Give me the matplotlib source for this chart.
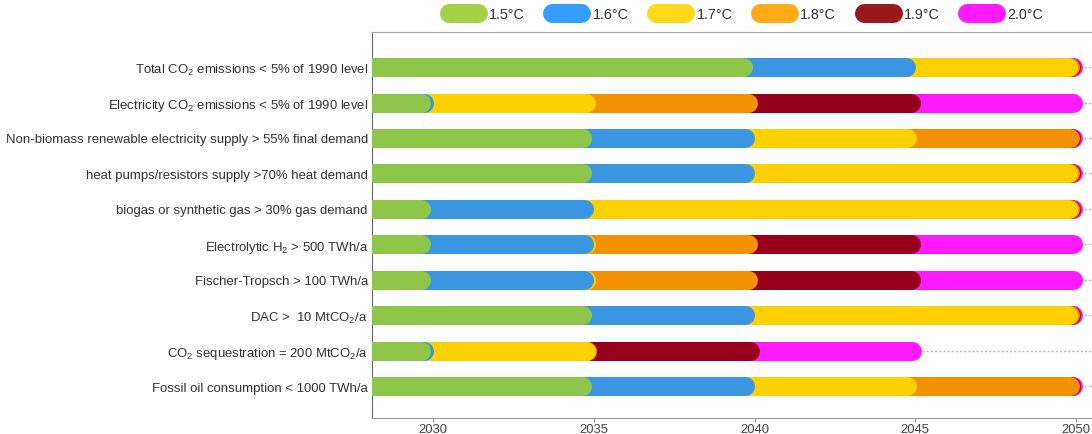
import matplotlib
matplotlib.use('Agg')
import matplotlib.pyplot as plt
from matplotlib.lines import Line2D

plt.rcParams['font.family'] = ['Liberation Sans', 'DejaVu Sans']
plt.rcParams['mathtext.fontset'] = 'custom'
plt.rcParams['mathtext.rm'] = 'Liberation Sans'
plt.rcParams['mathtext.it'] = 'Liberation Sans:italic'

# milestones, top to bottom
milestones = [
    'Total CO$_2$ emissions < 5% of 1990 level',
    'Electricity CO$_2$ emissions < 5% of 1990 level',
    'Non-biomass renewable electricity supply > 55% final demand',
    'heat pumps/resistors supply >70% heat demand',
    'biogas or synthetic gas > 30% gas demand',
    'Electrolytic H$_2$ > 500 TWh/a',
    'Fischer-Tropsch > 100 TWh/a',
    'DAC >  10 MtCO$_2$/a',
    'CO$_2$ sequestration = 200 MtCO$_2$/a',
    'Fossil oil consumption < 1000 TWh/a',
]

scenarios = ['1.5°C', '1.6°C', '1.7°C', '1.8°C', '1.9°C', '2.0°C']

# year each milestone is reached, per scenario (one list per milestone row)
year_15 = [2040, 2030, 2035, 2035, 2030, 2030, 2030, 2035, 2030, 2035]
year_16 = [2045, 2030, 2040, 2040, 2035, 2035, 2035, 2040, 2030, 2040]
year_17 = [2050, 2035, 2045, 2050, 2050, 2035, 2035, 2050, 2035, 2045]
year_18 = [2050, 2040, 2050, 2050, 2050, 2040, 2040, 2050, 2035, 2050]
year_19 = [2050, 2045, 2050, 2050, 2050, 2045, 2045, 2050, 2040, 2050]
year_20 = [2050, 2050, 2050, 2050, 2050, 2050, 2050, 2050, 2045, 2050]
years = [year_15, year_16, year_17, year_18, year_19, year_20]

bar_colors = ['#8DC649', '#3A96E0', '#FDD000', '#F39200', '#97001C', '#FF1AFF']
legend_colors = ['#A6D146', '#349EFF', '#FFD91A', '#FFAB1A', '#99191A', '#FF1AFF']
# small stagger so overlapping caps stay visible
stagger = [-0.07, 0.0, 0.05, 0.1, 0.15, 0.2]

fig = plt.figure(figsize=(10.92, 4.35), dpi=100)
ax = fig.add_axes([372 / 1092, 16 / 435, 720 / 1092, 386 / 435])

x_min, x_max = 2028.1, 2050.5
ax.set_xlim(x_min, x_max)
ax.set_ylim(9.9, -0.99)

lw_px = 19
lw_pt = lw_px * 72 / fig.dpi
cap = (lw_px / 2) / (720 / (x_max - x_min))  # round cap length in years

rows = list(range(len(milestones)))
for r in rows:
    ax.axhline(r, color='#BBBBBB', lw=1, ls=(0, (1.5, 1.5)), zorder=0)

# draw the warmest scenario first so cooler ones sit on top
for i in reversed(range(len(scenarios))):
    for r in rows:
        end = years[i][r] + stagger[i] - cap
        ax.plot([2020, end], [r, r], color=bar_colors[i], lw=lw_pt,
                solid_capstyle='round', zorder=2 + (5 - i))

fs = 9.45
ax.set_yticks(rows)
ax.set_yticklabels(milestones, fontsize=fs, color='#333333')
ax.tick_params(axis='y', length=0, pad=3)
ax.set_xticks([2030, 2035, 2040, 2045, 2050])
ax.tick_params(axis='x', length=3, color='#999999', labelsize=fs,
               labelcolor='#444444', pad=0.5)

ax.spines['right'].set_visible(False)
ax.spines['left'].set_color('#666666')
ax.spines['top'].set_color('#AAAAAA')
ax.spines['bottom'].set_color('#999999')

handles = [Line2D([0], [0], color=c, lw=lw_pt, solid_capstyle='round')
           for c in legend_colors]
fig.legend(handles, scenarios, loc='center', bbox_to_anchor=(746 / 1092, 1 - 15 / 435),
           ncol=6, frameon=False, fontsize=10.3, handlelength=2.03,
           handletextpad=0.8, columnspacing=1.92, labelcolor='#333333')

fig.savefig('out.png', dpi=100)
